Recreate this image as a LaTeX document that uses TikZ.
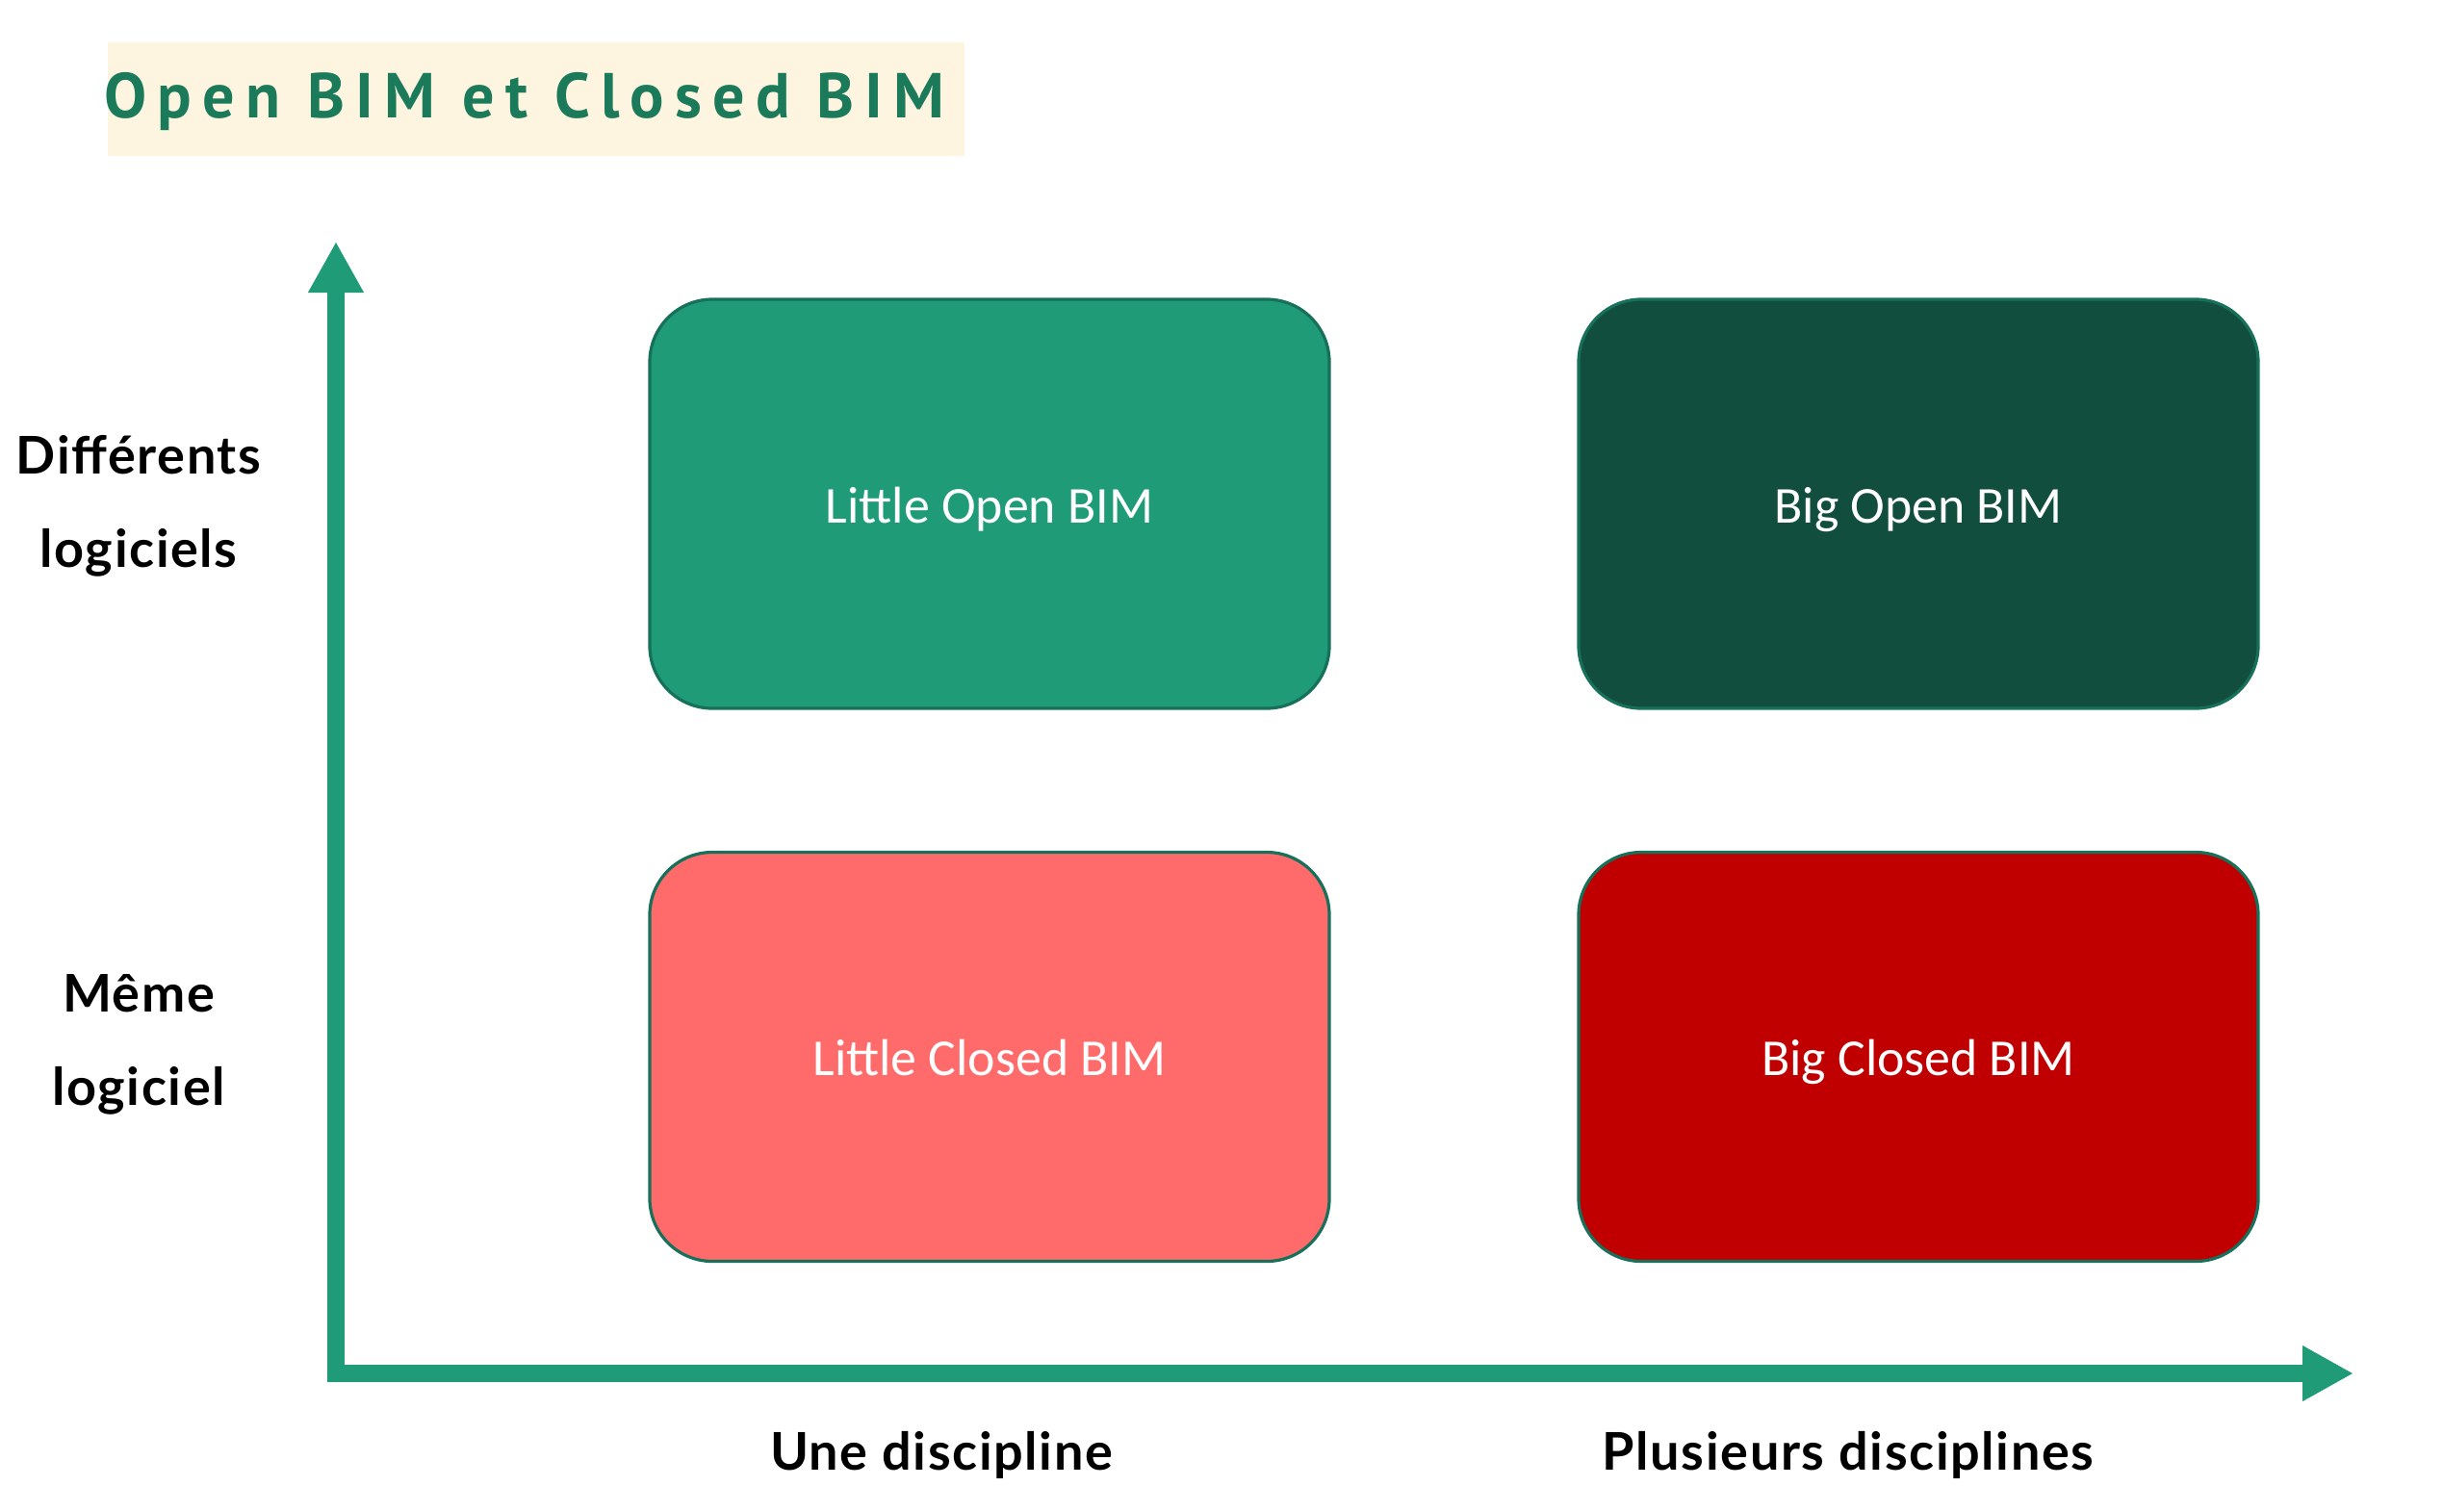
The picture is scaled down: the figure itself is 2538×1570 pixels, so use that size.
\documentclass[tikz,border=0pt]{standalone}
\usepackage{fontspec}
\setmainfont{Carlito}
\newfontfamily\labelfont[LetterSpace=3]{Lato}
\newfontfamily\titlefont[LetterSpace=17]{PT Sans}
\usetikzlibrary{arrows.meta}

\definecolor{axisgreen}{HTML}{1F9B78}
\definecolor{edgegreen}{HTML}{16705A}
\definecolor{deepgreen}{HTML}{114E3E}
\definecolor{salmon}{HTML}{FF6B6B}
\definecolor{crimson}{HTML}{C00000}
\definecolor{titlegreen}{HTML}{1B7A5A}
\definecolor{titlebg}{HTML}{FDF5E0}

\tikzset{
  quadrant/.style={draw=edgegreen, line width=1.6pt, rounded corners=32.5pt,
    minimum width=353pt, minimum height=212.5pt, inner sep=0pt,
    text height=19.7pt, text depth=0pt,
    text=white, font=\fontsize{26.9}{32}\selectfont},
  axisline/.style={draw=axisgreen, line width=9pt, line cap=rect,
    -{Triangle[length=26.5pt,width=27pt]}},
  axislabel/.style={align=center, font=\labelfont\bfseries\fontsize{27}{48.5}\selectfont},
}

\begin{document}
\begin{tikzpicture}[x=0.5pt, y=-0.5pt]
  \useasboundingbox (0,0) rectangle (2538,1570);

  % title banner
  \fill[titlebg] (112,44) rectangle (1002,162);
  \node[anchor=west, inner sep=0pt, text=titlegreen,
        font=\titlefont\bfseries\fontsize{33}{40}\selectfont] (title) at (108,106) {Open BIM et Closed BIM};

  % axes
  \coordinate (origin) at (349,1427);
  \coordinate (ytip) at (349,251);
  \coordinate (xtip) at (2445,1427);
  \draw[axisline] (origin) -- (ytip);
  \draw[axisline] (origin) -- (xtip);

  % quadrants
  \node[quadrant, fill=axisgreen] (lopen) at (1028,523.5) {Little Open BIM};
  \node[quadrant, fill=deepgreen] (bopen) at (1993,523.5) {Big Open BIM};
  \node[quadrant, fill=salmon] (lclosed) at (1028,1098) {Little Closed BIM};
  \node[quadrant, fill=crimson] (bclosed) at (1993,1098) {Big Closed BIM};

  % axis labels
  \node[axislabel] (ydiff) at (144,526) {Différents\\logiciels};
  \node[axislabel] (ysame) at (144,1085) {Même\\logiciel};
  \node[axislabel] (xone) at (978,1512) {Une discipline};
  \node[axislabel] (xmany) at (1920,1512) {Plusieurs disciplines};
\end{tikzpicture}
\end{document}
